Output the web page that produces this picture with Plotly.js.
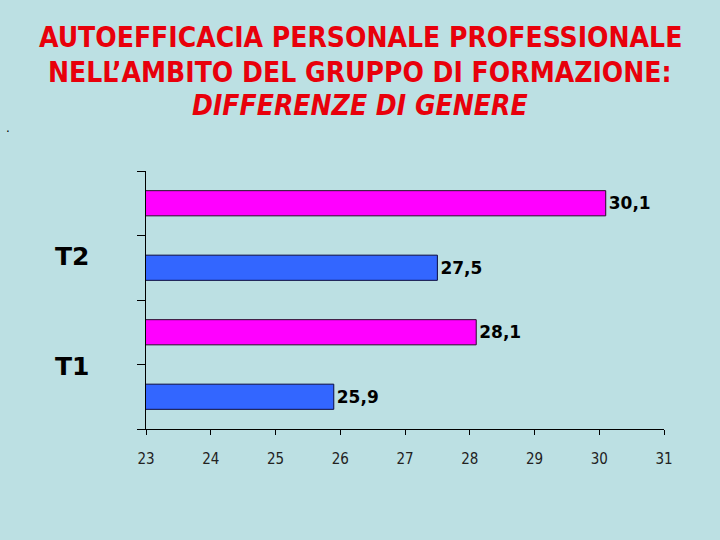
<!DOCTYPE html>
<html>
<head>
<meta charset="utf-8">
<script src="https://cdn.plot.ly/plotly-3.0.1.min.js"></script>
<style>
  html, body { margin: 0; padding: 0; background: #bce0e3; }
  #chart { width: 720px; height: 540px; }
</style>
</head>
<body>
<div id="chart"></div>
<script>
// Data
const groups = ["T1", "T2"];
const blueValues = [25.9, 27.5];
const magentaValues = [28.1, 30.1];
const rowCategories = ["T1 blu", "T1 magenta", "T2 blu", "T2 magenta"];
const xTicks = [23, 24, 25, 26, 27, 28, 29, 30, 31];

const blueRows = [rowCategories[0], rowCategories[2]];
const magentaRows = [rowCategories[1], rowCategories[3]];

const textFont = { family: "DejaVu Sans, Verdana, sans-serif", size: 17, color: "#000000", weight: "bold" };

const traces = [
  {
    type: "bar", orientation: "h", name: "blu",
    y: blueRows, x: blueValues,
    width: 0.39,
    marker: { color: "#3366ff", line: { color: "#0a0a40", width: 1 } },
    text: blueValues, texttemplate: "%{x:.1f}", textposition: "outside",
    textfont: textFont, cliponaxis: false, hoverinfo: "skip"
  },
  {
    type: "bar", orientation: "h", name: "magenta",
    y: magentaRows, x: magentaValues,
    width: 0.39,
    marker: { color: "#ff00ff", line: { color: "#2a0a2a", width: 1 } },
    text: magentaValues, texttemplate: "%{x:.1f}", textposition: "outside",
    textfont: textFont, cliponaxis: false, hoverinfo: "skip"
  }
];

const titleFont = { family: "DejaVu Sans Condensed, DejaVu Sans, Tahoma, sans-serif", size: 28, color: "#e8000b" };
const cx = 0.5 * 720 / 518 - 146 / 518;

const layout = {
  width: 720, height: 540,
  paper_bgcolor: "#bce0e3", plot_bgcolor: "#bce0e3",
  separators: ",.",
  showlegend: false,
  barmode: "overlay",
  margin: { l: 146, r: 56, t: 171, b: 111 },
  xaxis: {
    range: [23, 31], tickvals: xTicks, ticktext: xTicks.map(String),
    showgrid: false, zeroline: false,
    showline: true, linecolor: "#000000", linewidth: 1,
    ticks: "outside", ticklen: 5, tickcolor: "#000000",
    ticklabelstandoff: 11,
    tickfont: { family: "DejaVu Sans Condensed, DejaVu Sans, Tahoma, sans-serif", size: 15, color: "#222222" },
    fixedrange: true
  },
  yaxis: {
    type: "category", categoryorder: "array", categoryarray: rowCategories,
    range: [-0.5, 3.5],
    showticklabels: false, tickson: "boundaries",
    showgrid: false, zeroline: false,
    showline: true, linecolor: "#000000", linewidth: 1,
    ticks: "outside", ticklen: 8, tickcolor: "#000000",
    fixedrange: true
  },
  annotations: [
    { xref: "paper", yref: "paper", x: cx, y: 1 + (171 - 37) / 258, yanchor: "middle", xanchor: "center",
      text: "<b>AUTOEFFICACIA PERSONALE PROFESSIONALE</b>", showarrow: false, font: titleFont },
    { xref: "paper", yref: "paper", x: cx, y: 1 + (171 - 72) / 258, yanchor: "middle", xanchor: "center",
      text: "<b>NELL’AMBITO DEL GRUPPO DI FORMAZIONE:</b>", showarrow: false, font: titleFont },
    { xref: "paper", yref: "paper", x: cx, y: 1 + (171 - 105) / 258, yanchor: "middle", xanchor: "center",
      text: "<b><i>DIFFERENZE DI GENERE</i></b>", showarrow: false, font: titleFont },
    { xref: "paper", yref: "paper", x: -0.106, y: 0.667, xanchor: "right", yanchor: "middle",
      text: "<b>" + groups[1] + "</b>", showarrow: false,
      font: { family: "DejaVu Sans, Tahoma, sans-serif", size: 25, color: "#000000" } },
    { xref: "paper", yref: "paper", x: -0.106, y: 0.244, xanchor: "right", yanchor: "middle",
      text: "<b>" + groups[0] + "</b>", showarrow: false,
      font: { family: "DejaVu Sans, Tahoma, sans-serif", size: 25, color: "#000000" } },
    { xref: "paper", yref: "paper", x: (8 - 146) / 518, y: (429 - 128) / 258, xanchor: "center", yanchor: "middle",
      text: ".", showarrow: false,
      font: { family: "DejaVu Sans, sans-serif", size: 12, color: "#000000" } }
  ]
};

Plotly.newPlot("chart", traces, layout, { displayModeBar: false, staticPlot: true });
</script>
</body>
</html>
